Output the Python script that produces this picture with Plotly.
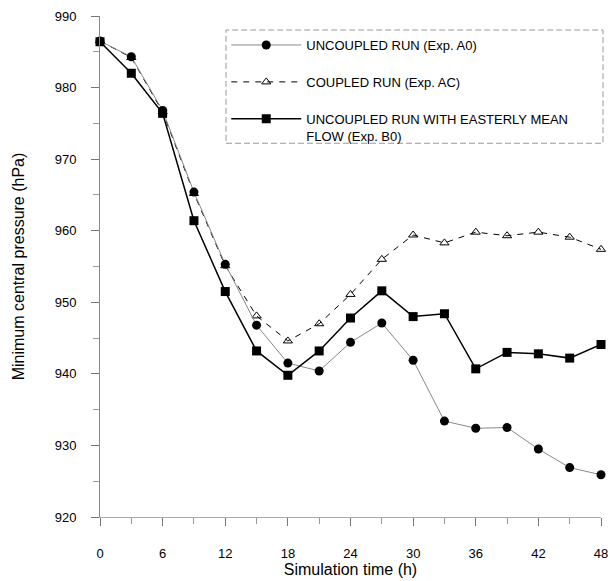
import plotly.graph_objects as go

time_h = [0, 3, 6, 9, 12, 15, 18, 21, 24, 27, 30, 33, 36, 39, 42, 45, 48]
uncoupled_a0 = [986.5, 984.3, 976.8, 965.4, 955.3, 946.8, 941.5, 940.4, 944.4, 947.1,
                941.9, 933.4, 932.4, 932.5, 929.5, 926.9, 925.9]
coupled_ac = [986.5, 984.2, 976.6, 965.2, 955.1, 948.1, 944.6, 947.0, 951.1, 956.0,
              959.4, 958.3, 959.8, 959.3, 959.8, 959.1, 957.4]
easterly_b0 = [986.4, 982.0, 976.4, 961.4, 951.5, 943.2, 939.8, 943.2, 947.8, 951.6,
               948.0, 948.4, 940.7, 943.0, 942.8, 942.2, 944.1]

x_ticks = [0, 6, 12, 18, 24, 30, 36, 42, 48]
y_ticks = [920, 930, 940, 950, 960, 970, 980, 990]

names = ["UNCOUPLED RUN (Exp. A0)", "COUPLED RUN (Exp. AC)",
         "UNCOUPLED RUN WITH EASTERLY MEAN<br>FLOW (Exp. B0)"]

font = "Liberation Sans, Arial, sans-serif"
fig = go.Figure()
fig.add_trace(go.Scatter(
    x=time_h, y=coupled_ac, name=names[1], legendrank=2, legendgroup="ac",
    mode="lines+markers",
    line=dict(color="black", width=1, dash="6px,6px"),
    marker=dict(symbol="triangle-up-open", size=8, color="black", line=dict(width=1)),
    cliponaxis=False))
fig.add_trace(go.Scatter(
    x=time_h, y=uncoupled_a0, name=names[0], legendrank=1, legendgroup="a0",
    mode="lines+markers",
    line=dict(color="#888888", width=1),
    marker=dict(symbol="circle", size=9, color="black"),
    cliponaxis=False))
fig.add_trace(go.Scatter(
    x=time_h, y=easterly_b0, name=names[2], legendrank=3, legendgroup="b0",
    mode="lines+markers",
    line=dict(color="black", width=1.5),
    marker=dict(symbol="square", size=9, color="black"),
    cliponaxis=False))

fig.update_layout(
    width=608, height=581,
    margin=dict(l=100, r=7, t=16, b=64, autoexpand=False),
    paper_bgcolor="white", plot_bgcolor="white",
    font=dict(family=font, size=13, color="black"),
    showlegend=True,
    legend=dict(x=0.252, y=0.972, xanchor="left", yanchor="top",
                bgcolor="rgba(0,0,0,0)", borderwidth=0,
                font=dict(size=13), itemwidth=70, tracegroupgap=17,
                traceorder="grouped", valign="top"),
    shapes=[dict(type="rect", xref="paper", yref="paper",
                 x0=0.2515, x1=1.004, y0=0.746, y1=0.972,
                 line=dict(color="#999999", width=1, dash="6px,3px"),
                 fillcolor="white", layer="below")],
    xaxis=dict(range=[0, 48], tickvals=x_ticks, showgrid=False, zeroline=False,
               showline=True, linecolor="#aaaaaa", linewidth=1, automargin=False,
               ticks="outside", ticklen=8, tickcolor="#777777",
               minor=dict(dtick=3, ticks="outside", ticklen=6, tickcolor="#999999"),
               ticklabelstandoff=16, ticklabeloverflow="allow",
               title=dict(text="Simulation time (h)", font=dict(size=16), standoff=2)),
    yaxis=dict(range=[920, 990], tickvals=y_ticks, showgrid=False, zeroline=False,
               showline=True, linecolor="#888888", linewidth=1, automargin=False,
               ticks="outside", ticklen=8, tickcolor="#777777",
               minor=dict(dtick=5, ticks="outside", ticklen=6, tickcolor="#999999"),
               ticklabelstandoff=12,
               title=dict(text="Minimum central pressure (hPa)", font=dict(size=16), standoff=26)),
)

fig.write_html("out.html")
